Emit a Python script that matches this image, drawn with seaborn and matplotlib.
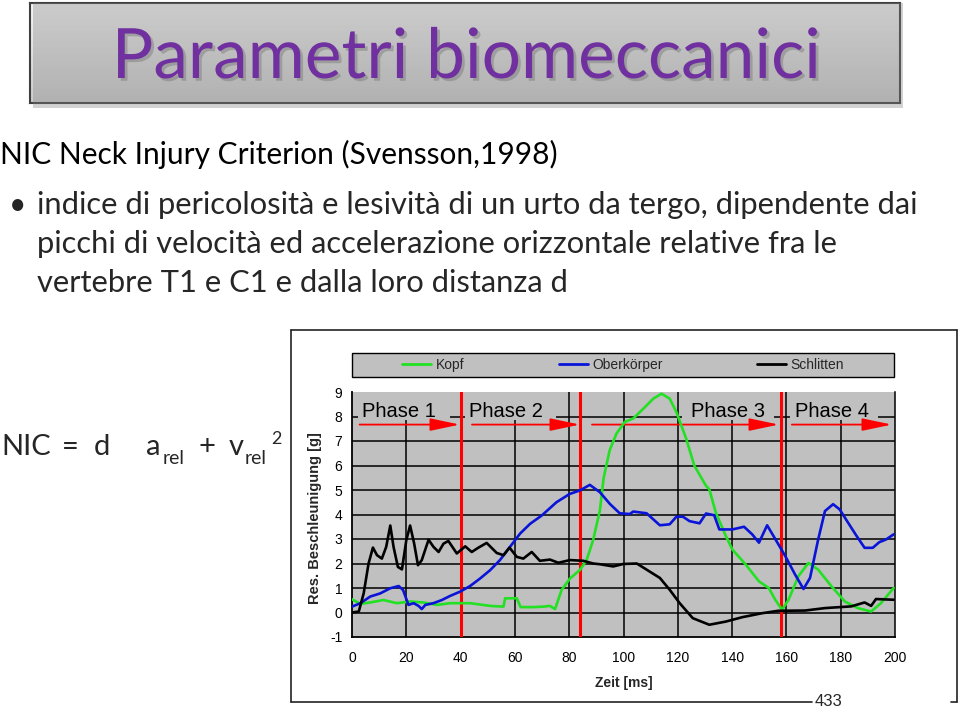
import numpy as np
import pandas as pd
import seaborn as sns
import matplotlib.pyplot as plt
import matplotlib.patheffects as pe
from matplotlib.patches import Rectangle
from matplotlib.lines import Line2D
from matplotlib.colors import LinearSegmentedColormap

# ---------------- data ----------------
kopf_t = [0, 3.1, 6.7, 11.6, 16.5, 21.4, 26.3, 31.3, 36.2, 43.5, 50.9, 55.8, 56.4, 60.7, 62.1,
          66.8, 70.5, 72.9, 74.8, 77.2, 80.3, 83.9, 86.4, 88.8, 91.3, 92.7, 94.9, 97.4, 100.5,
          103.6, 107.3, 111, 114, 117, 119.5, 123.1, 126.1, 130.4, 131.6, 134, 137.7, 140.1,
          145, 149.9, 153.5, 155.9, 158.4, 160.8, 164.4, 168.1, 171.7, 176.6, 181.5, 186.3,
          191.2, 194.8, 199.5]
kopf_v = [0.54, 0.35, 0.41, 0.51, 0.38, 0.45, 0.41, 0.31, 0.38, 0.38, 0.27, 0.24, 0.58, 0.58,
          0.22, 0.22, 0.24, 0.27, 0.14, 0.92, 1.39, 1.73, 2.14, 2.95, 4.16, 5.5, 6.62, 7.30, 7.78,
          7.92, 8.32, 8.73, 8.93, 8.73, 8.18, 7.09, 5.99, 5.17, 5.03, 4.08, 3.12, 2.57, 1.96,
          1.27, 1.00, 0.52, 0.11, 0.52, 1.48, 2.02, 1.75, 1.07, 0.45, 0.18, 0.04, 0.38, 1.00]

oberk_t = [0, 3.1, 6.7, 10.4, 14.1, 17.2, 18.8, 20.8, 22.7, 24.5, 25.7, 27, 30, 33.1, 36.2,
           39.8, 43.5, 47.2, 50.9, 54.5, 58.2, 61.9, 65.6, 69.9, 75.3, 80.2, 83.9, 87.6, 91.3,
           95, 98.6, 102.3, 103.6, 108.5, 113.4, 117, 119.5, 121.9, 124.3, 128, 130.4, 133.4,
           135.3, 140.1, 144.4, 147.4, 149.9, 152.9, 156, 159.6, 163.2, 166.3, 168.7, 171.7,
           174.2, 177.2, 179.6, 182.7, 185.7, 188.8, 191.8, 194.2, 196.7, 199.5]
oberk_v = [0.24, 0.38, 0.65, 0.78, 0.99, 1.08, 0.92, 0.31, 0.38, 0.27, 0.14, 0.31, 0.38, 0.51,
           0.68, 0.85, 1.08, 1.39, 1.73, 2.14, 2.68, 3.22, 3.62, 3.96, 4.50, 4.84, 4.98, 5.21,
           4.91, 4.43, 4.05, 4.02, 4.12, 4.05, 3.56, 3.60, 3.91, 3.91, 3.73, 3.64, 4.04, 3.97,
           3.39, 3.39, 3.50, 3.19, 2.85, 3.56, 2.98, 2.30, 1.55, 0.96, 1.41, 2.98, 4.14, 4.42,
           4.21, 3.67, 3.15, 2.64, 2.64, 2.87, 2.98, 3.19]

schl_t = [0, 2.5, 4.3, 6.1, 7.7, 9.2, 11, 12.6, 14.1, 15.3, 16.9, 18.4, 20, 21.4, 22.9, 24.3,
          25.7, 28.2, 30, 31.9, 33.7, 35.5, 38.6, 41.7, 44.1, 46.6, 49.6, 53.3, 55.8, 58, 60.7,
          63.1, 66.2, 69.2, 72.9, 76, 80.3, 85.2, 88.8, 91.3, 96.2, 99.9, 104.9, 108.5, 113.4,
          117, 120.7, 125.5, 131.6, 137.7, 143.8, 151, 157, 166.9, 174.2, 183.9, 188.8, 191.2,
          193, 199.5]
schl_v = [0.0, 0.04, 0.78, 2.0, 2.65, 2.34, 2.2, 2.68, 3.55, 2.68, 1.86, 1.76, 2.95, 3.55, 2.81,
          1.93, 2.14, 2.97, 2.68, 2.47, 2.81, 2.92, 2.41, 2.7, 2.47, 2.65, 2.84, 2.43, 2.34,
          2.65, 2.27, 2.2, 2.47, 2.11, 2.16, 2.03, 2.14, 2.11, 2.0, 1.97, 1.88, 1.98, 2.0, 1.75,
          1.41, 0.93, 0.38, -0.23, -0.5, -0.37, -0.19, -0.03, 0.07, 0.08, 0.18, 0.25, 0.41,
          0.27, 0.55, 0.52]

series_names = ["Kopf", "Oberkörper", "Schlitten"]
phase_labels = ["Phase 1", "Phase 2", "Phase 3", "Phase 4"]
phase_bounds = [40, 84, 158]
x_ticks = [0, 20, 40, 60, 80, 100, 120, 140, 160, 180, 200]
y_ticks = [-1, 0, 1, 2, 3, 4, 5, 6, 7, 8, 9]

# --------------- styling ----------------
sns.set_theme(style="white")
plt.rcParams['font.family'] = ['Liberation Sans', 'DejaVu Sans']
plt.rcParams['axes.unicode_minus'] = False

W, H = 960, 709
fig = plt.figure(figsize=(9.6, 7.09), dpi=100)
fig.patch.set_facecolor('white')


def fx(x):
    return x / W


def fy(y):
    return 1 - y / H


BODY = ['Lato', 'DejaVu Sans']

# ---- title box ----
fig.patches.append(Rectangle((fx(33), fy(108)), fx(870), 105 / H, transform=fig.transFigure,
                             facecolor='#808080', alpha=0.35, edgecolor='none', zorder=0))
tax = fig.add_axes([fx(30), fy(103), fx(870), 100 / H])
cmap = LinearSegmentedColormap.from_list('g', ['#F5F5F5', '#CDCDCD'])
tax.imshow(np.linspace(0, 1, 100).reshape(-1, 1), cmap=cmap, aspect='auto', extent=[0, 1, 0, 1])
tax.set_xticks([])
tax.set_yticks([])
for s in tax.spines.values():
    s.set_color('#404040')
    s.set_linewidth(1.5)
fig.text(fx(466), fy(78), 'Parametri biomeccanici', ha='center', va='baseline', fontsize=50,
         color='#7030A0', family=BODY,
         path_effects=[pe.SimplePatchShadow(offset=(2, -2), shadow_rgbFace='#777777', alpha=0.45),
                       pe.Normal()])

# ---- body text ----
FS = 21.5
fig.text(fx(0), fy(164), 'NIC Neck Injury Criterion (Svensson,1998)', ha='left', va='baseline',
         fontsize=FS, color='black', family=BODY)
fig.text(fx(9), fy(214), '•', ha='left', va='baseline', fontsize=FS, family=BODY)
body_lines = ['indice di pericolosità e lesività di un urto da tergo, dipendente dai',
              'picchi di velocità ed accelerazione orizzontale relative fra le',
              'vertebre T1 e C1 e dalla loro distanza d']
for line, yb in zip(body_lines, [214, 253, 292]):
    fig.text(fx(37), fy(yb), line, ha='left', va='baseline', fontsize=22.2, family=BODY)

# ---- NIC formula ----
for txt, x, yb, fs in [('NIC', 1, 455, 21), ('=', 62, 455, 21), ('d', 94, 455, 21),
                       ('a', 146, 455, 21), ('rel', 163, 464, 14), ('+', 198, 455, 21),
                       ('v', 229, 455, 21), ('rel', 245, 464, 14), ('2', 271, 444, 13)]:
    fig.text(fx(x), fy(yb), txt, ha='left', va='baseline', fontsize=fs, family=BODY)

# ---- chart frame ----
fc = '#222222'
for (x0, y0, x1, y1) in [(291, 330, 957, 330), (291, 330, 291, 702), (957, 330, 957, 702),
                         (291, 702, 812, 702), (951, 702, 957, 702)]:
    fig.lines.append(Line2D([fx(x0), fx(x1)], [fy(y0), fy(y1)], transform=fig.transFigure,
                            color=fc, lw=1.2))
fig.text(fx(815), fy(702), '433', ha='left', va='center', fontsize=12)

# ---- legend frame ----
fig.patches.append(Rectangle((fx(352), fy(377)), fx(894 - 352), 24 / H, transform=fig.transFigure,
                             facecolor='#C0C0C0', edgecolor='black', lw=1.0, zorder=1))

# ---- main axes ----
ax = fig.add_axes([fx(352), fy(637), fx(895 - 352), (637 - 392) / H])
ax.set_facecolor('#C0C0C0')
ax.set_xlim(0, 200)
ax.set_ylim(-1, 9)

# grid lines
ax.hlines(y_ticks[1:-1], 0, 200, colors='black', lw=1.1, zorder=1)
ax.vlines(x_ticks[1:-1], -1, 9, colors='black', lw=1.1, zorder=1)

# label boxes (hide grid behind phase labels)
box_spans = [(2.2, 36), (41.5, 75.3), (121.5, 155.5), (161.4, 193.6)]
text_x = [3.8, 43.1, 125, 163.2]
for (a, b), lab, tx in zip(box_spans, phase_labels, text_x):
    ax.add_patch(Rectangle((a, 7.85), b - a, 1.15, facecolor='#C0C0C0', edgecolor='none', zorder=2))
    ax.text(tx, 8.22, lab, ha='left', va='center', fontsize=14.5, color='black', zorder=3)

# phase boundaries
for b in phase_bounds:
    ax.axvline(b, color='#FF0000', lw=2.2, zorder=3)

# arrows
arrow_spans = [(2.8, 39.7), (44.2, 83.9), (88.4, 157.2), (162, 198.8)]
for a, b in arrow_spans:
    ax.annotate('', xy=(b, 7.67), xytext=(a, 7.67),
                arrowprops=dict(arrowstyle='-|>,head_length=1.8,head_width=0.38',
                                color='#FF0000', lw=1.3, mutation_scale=10,
                                shrinkA=0, shrinkB=0), zorder=3)

df = pd.concat([
    pd.DataFrame({'t': kopf_t, 'v': kopf_v, 's': series_names[0]}),
    pd.DataFrame({'t': oberk_t, 'v': oberk_v, 's': series_names[1]}),
    pd.DataFrame({'t': schl_t, 'v': schl_v, 's': series_names[2]}),
])
palette = {series_names[0]: '#22E022', series_names[1]: '#0A14D8', series_names[2]: '#000000'}
sns.lineplot(data=df, x='t', y='v', hue='s', palette=palette, ax=ax, lw=1.9,
             estimator=None, sort=False, legend=False, zorder=4)

ax.set_xticks(x_ticks)
ax.set_yticks(y_ticks)
ax.tick_params(axis='both', direction='inout', length=8, width=1.3, color='black',
               labelsize=10, labelcolor='black')
ax.tick_params(axis='x', pad=6)
ax.tick_params(axis='y', pad=3)
for side in ['left', 'bottom', 'right']:
    ax.spines[side].set_visible(True)
    ax.spines[side].set_color('black')
    ax.spines[side].set_linewidth(1.3)
ax.spines['top'].set_visible(False)
ax.spines['right'].set_linewidth(1.1)

ax.set_xlabel('Zeit [ms]', fontsize=10, fontweight='bold')
ax.set_ylabel('Res. Beschleunigung [g]', fontsize=10.5, fontweight='bold')
ax.xaxis.set_label_coords(0.5, -0.16)
ax.yaxis.set_label_coords(-0.055, 0.486)

# legend
handles = [Line2D([], [], color=palette[n], lw=2.0) for n in series_names]
fig.legend(handles, series_names, loc='center', bbox_to_anchor=(fx(623), fy(365)), ncol=3,
           frameon=False, columnspacing=6.8, handlelength=2.1, handletextpad=0.3,
           fontsize=10)

fig.savefig('out.png', dpi=100)
